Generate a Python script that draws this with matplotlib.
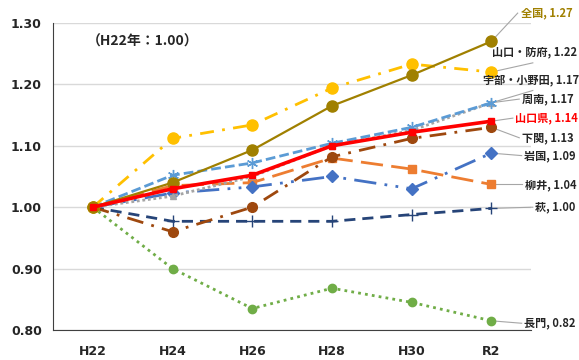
import matplotlib
matplotlib.use("Agg")
import matplotlib.pyplot as plt

plt.rcParams['font.family'] = ['DejaVu Sans', 'Noto Sans CJK JP']

categories = ["H22", "H24", "H26", "H28", "H30", "R2"]

zenkoku = [1.00, 1.04, 1.093, 1.165, 1.215, 1.27]
hofu = [1.00, 1.112, 1.134, 1.194, 1.233, 1.22]
ube = [1.00, 1.018, 1.05, 1.10, 1.125, 1.17]
shunan = [1.00, 1.052, 1.072, 1.104, 1.13, 1.17]
kennai = [1.00, 1.03, 1.052, 1.10, 1.122, 1.14]
shimonoseki = [1.00, 0.96, 1.00, 1.082, 1.112, 1.13]
iwakuni = [1.00, 1.023, 1.033, 1.05, 1.03, 1.088]
yanai = [1.00, 1.035, 1.04, 1.08, 1.062, 1.037]
hagi = [1.00, 0.977, 0.977, 0.977, 0.988, 0.998]
nagato = [1.00, 0.90, 0.835, 0.868, 0.845, 0.815]

labels = ["全国, 1.27", "山口・防府, 1.22", "宇部・小野田, 1.17", "周南, 1.17",
          "山口県, 1.14", "下関, 1.13", "岩国, 1.09", "柳井, 1.04", "萩, 1.00", "長門, 0.82"]

fig = plt.figure(figsize=(5.79, 3.6), dpi=100)
ax = fig.add_axes([0.0915, 0.0833, 0.826, 0.853])
x = list(range(len(categories)))

styles = [
    (nagato, '#70AD47', (0, (1, 1.5)), 'o', 6, 2),
    (hagi, '#264478', (0, (4, 2.5)), '+', 8, 3),
    (yanai, '#ED7D31', (0, (8, 3)), 's', 6, 3),
    (iwakuni, '#4472C4', (0, (8, 3, 1, 3, 1, 3)), 'D', 6, 3),
    (shimonoseki, '#9E480E', (0, (6, 3, 1, 3)), 'o', 7, 4),
    (ube, '#A5A5A5', (0, (1, 1)), '^', 5, 3),
    (shunan, '#5B9BD5', (0, (3.5, 1.5)), (6, 2, 0), 8, 5),
    (hofu, '#FFC000', (0, (5, 3, 1, 3)), 'o', 8, 5),
    (kennai, '#FF0000', '-', 's', 4, 7),
    (zenkoku, '#A08000', '-', 'o', 8, 6),
]
for vals, col, ls, mk, ms, z in styles:
    lw = 2.6 if col == '#FF0000' else (1.6 if col == '#A08000' else 2.0)
    ax.plot(x, vals, color=col, linestyle=ls, linewidth=lw, marker=mk,
            markersize=ms, markerfacecolor=col, markeredgecolor=col, zorder=z)

ax.set_xlim(-0.5, 5.5)
ax.set_ylim(0.80, 1.30)
ax.set_yticks([0.80, 0.90, 1.00, 1.10, 1.20, 1.30])
ax.set_yticklabels([f"{v:.2f}" for v in [0.80, 0.90, 1.00, 1.10, 1.20, 1.30]])
ax.set_xticks(x)
ax.set_xticklabels(categories)
for t in ax.get_xticklabels() + ax.get_yticklabels():
    t.set_fontweight('bold')
    t.set_fontsize(9)
    t.set_color('#262626')
ax.tick_params(axis='both', length=0)
ax.tick_params(axis='x', pad=11)
ax.tick_params(axis='y', pad=8)
ax.grid(axis='y', color='#D9D9D9', linewidth=1)
ax.set_axisbelow(True)
for s in ['top', 'right']:
    ax.spines[s].set_visible(False)
ax.spines['left'].set_color('#404040')
ax.spines['bottom'].set_color('#404040')

ax.text(0.625, 1.270, "（H22年：1.00）", fontsize=10, fontweight='bold',
        family=['Noto Sans CJK JP'], color='#262626', ha='center', va='center')

series_end = [zenkoku, hofu, ube, shunan, kennai, shimonoseki, iwakuni, yanai, hagi, nagato]
label_y = [1.316, 1.253, 1.208, 1.176, 1.145, 1.113, 1.084, 1.037, 1.00, 0.811]
label_x = [5.375, 5.01, 4.89, 5.39, 5.30, 5.39, 5.41, 5.425, 5.55, 5.41]
label_colors = ['#A08000', '#262626', '#262626', '#262626', '#FF0000',
                '#262626', '#262626', '#262626', '#262626', '#262626']
for vals, lab, ly, lx, lc in zip(series_end, labels, label_y, label_x, label_colors):
    ax.text(lx, ly, lab, fontsize=8, fontweight='bold', color=lc,
            family=['Noto Sans CJK JP', 'DejaVu Sans'], ha='left', va='center',
            clip_on=False, zorder=10)

leaders = [
    (zenkoku, 5.33, 1.316),
    (hofu, 5.52, 1.235),
    (ube, 5.52, 1.19),
    (shunan, 5.35, 1.176),
    (kennai, 5.27, 1.145),
    (shimonoseki, 5.35, 1.113),
    (iwakuni, 5.38, 1.084),
    (yanai, 5.39, 1.037),
    (hagi, 5.52, 1.00),
    (nagato, 5.38, 0.811),
]
for vals, lx, ly in leaders:
    ax.plot([5, lx], [vals[-1], ly], color='#A6A6A6', linewidth=0.8,
            clip_on=False, zorder=1)

fig.savefig("out.png", dpi=100)
